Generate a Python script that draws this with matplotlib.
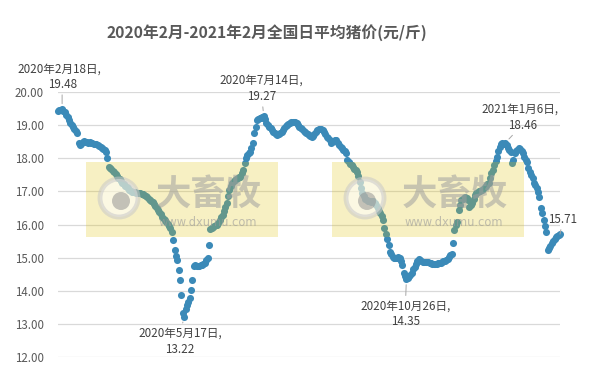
import matplotlib
matplotlib.use('Agg')
from matplotlib import pyplot as plt
from matplotlib.patches import Rectangle, Ellipse
import numpy as np
import pandas as pd

plt.rcParams['font.family'] = ['Noto Sans CJK SC', 'DejaVu Sans']

# daily national average pig price (yuan / jin)
start_date = '2020-02-15'
prices = [
    19.43, 19.45, 19.46, 19.48, 19.44, 19.40, 19.32, 19.25, 19.15, 19.07,
    19.00, 18.93, 18.88, 18.82, 18.77, 18.45, 18.41, 18.44, 18.50, 18.52,
    18.50, 18.49, 18.47, 18.48, 18.47, 18.46, 18.44, 18.43, 18.42, 18.41,
    18.38, 18.35, 18.31, 18.28, 18.24, 18.19, 18.01, 17.75, 17.72, 17.68,
    17.63, 17.59, 17.53, 17.47, 17.41, 17.36, 17.31, 17.26, 17.22, 17.17,
    17.12, 17.09, 17.05, 17.02, 16.99, 16.98, 16.97, 16.96, 16.95, 16.95,
    16.94, 16.93, 16.91, 16.89, 16.86, 16.82, 16.78, 16.74, 16.71, 16.68,
    16.62, 16.56, 16.50, 16.44, 16.38, 16.32, 16.23, 16.18, 16.13, 16.08,
    16.02, 15.95, 15.88, 15.78, 15.53, 15.23, 15.05, 14.93, 14.63, 14.33,
    13.87, 13.33, 13.22, 13.45, 13.58, 13.66, 13.78, 14.02, 14.33, 14.76,
    14.78, 14.76, 14.75, 14.76, 14.77, 14.78, 14.80, 14.84, 14.92, 14.99,
    15.38, 15.85, 15.90, 15.92, 15.95, 15.97, 15.99, 16.06, 16.14, 16.23,
    16.30, 16.40, 16.52, 16.65, 16.85, 17.05, 17.15, 17.26, 17.30, 17.33,
    17.36, 17.39, 17.42, 17.44, 17.55, 17.65, 17.86, 18.00, 18.10, 18.16,
    18.19, 18.30, 18.47, 18.77, 18.95, 19.16, 19.20, 19.22, 19.21, 19.24,
    19.27, 19.18, 19.07, 19.00, 18.95, 18.90, 18.86, 18.80, 18.76, 18.73,
    18.71, 18.74, 18.77, 18.80, 18.86, 18.92, 18.97, 19.01, 19.04, 19.07,
    19.09, 19.10, 19.10, 19.09, 19.05, 19.00, 18.95, 18.91, 18.87, 18.83,
    18.80, 18.77, 18.73, 18.70, 18.67, 18.65, 18.66, 18.72, 18.79, 18.86,
    18.88, 18.88, 18.87, 18.86, 18.80, 18.73, 18.65, 18.60, 18.54, 18.47,
    18.50, 18.53, 18.56, 18.55, 18.47, 18.40, 18.34, 18.30, 18.26, 18.22,
    18.16, 17.95, 17.88, 17.84, 17.80, 17.75, 17.69, 17.64, 17.59, 17.45,
    17.29, 17.10, 16.95, 16.85, 16.78, 16.74, 16.72, 16.70, 16.68, 16.72,
    16.70, 16.65, 16.59, 16.50, 16.42, 16.35, 16.25, 16.14, 15.90, 15.70,
    15.55, 15.38, 15.17, 15.10, 15.02, 15.00, 14.99, 15.00, 15.02, 15.00,
    14.90, 14.78, 14.55, 14.45, 14.35, 14.40, 14.45, 14.48, 14.55, 14.65,
    14.72, 14.80, 14.90, 14.95, 14.93, 14.90, 14.87, 14.86, 14.87, 14.88,
    14.87, 14.85, 14.83, 14.81, 14.80, 14.81, 14.82, 14.83, 14.84, 14.85,
    14.87, 14.89, 14.91, 14.93, 14.97, 15.02, 15.08, 15.11, 15.44, 15.84,
    16.00, 16.08, 16.44, 16.60, 16.74, 16.78, 16.80, 16.83, 16.80, 16.75,
    16.53, 16.58, 16.65, 16.78, 16.88, 16.95, 16.98, 17.00, 17.02, 17.05,
    17.08, 17.12, 17.17, 17.22, 17.26, 17.40, 17.55, 17.65, 17.80, 17.92,
    18.05, 18.22, 18.35, 18.43, 18.45, 18.44, 18.46, 18.40, 18.32, 18.25,
    18.20, 17.86, 17.95, 18.16, 18.22, 18.26, 18.31, 18.28, 18.22, 18.16,
    18.05, 17.95, 17.89, 17.71, 17.60, 17.50, 17.41, 17.26, 17.18, 17.11,
    16.98, 16.83, 16.50, 16.35, 16.14, 15.95, 15.78, 15.23, 15.30, 15.36,
    15.44, 15.50, 15.56, 15.61, 15.65, 15.68, 15.71,
]
dates = pd.date_range(start_date, periods=len(prices), freq='D')

# labelled points
label_dates = ['2020-02-18', '2020-05-17', '2020-07-14', '2020-10-26', '2021-01-06', '2021-02-15']
label_with_date = [True, True, True, True, True, False]
# pixel offsets of the date line and of the value line (layout only)
date_offsets = [(-3, 40), (-4, -17), (-2, 36), (-1, -27), (15, 34), None]
value_offsets = [(0, 25), (-4, -33), (-2, 20), (-1, -42), (17, 18), (3, 15)]

title = '2020年2月-2021年2月全国日平均猪价(元/斤)'

W, H = 594, 380
fig = plt.figure(figsize=(W / 100, H / 100), dpi=100)
ax = fig.add_axes([58 / W, 23 / H, 502 / W, 265 / H])

ax.scatter(dates, prices, s=26, color='#3B8AB8', linewidths=0, zorder=3, clip_on=False)
ax.set_xlim(dates[0], dates[-1])
ax.set_ylim(12, 20)
ax.set_yticks(np.arange(12, 21, 1))
ax.set_yticklabels(['%.2f' % v for v in np.arange(12, 21, 1)], color='#595959', fontsize=8.3)
ax.tick_params(axis='y', length=0, pad=10)
ax.set_xticks([])
ax.grid(axis='y', color='#D9D9D9', lw=0.9)
ax.set_axisbelow(True)
for s in ax.spines.values():
    s.set_visible(False)

series = pd.Series(prices, index=dates)
line_kw = dict(textcoords='offset pixels', ha='center', va='center', fontsize=8.4,
               color='#404040', annotation_clip=False)
arrow_kw = dict(arrowstyle='-', color='#A6A6A6', lw=0.7, shrinkA=1, shrinkB=4)
for d, with_date, doff, voff in zip(label_dates, label_with_date, date_offsets, value_offsets):
    t = pd.Timestamp(d)
    v = series[t]
    below = voff[1] < 0
    # the leader line starts from the line nearest to the point
    ax.annotate('%.2f' % v, xy=(t, v), xytext=voff,
                arrowprops=None if below else arrow_kw, **line_kw)
    if with_date:
        ax.annotate('%d年%d月%d日,' % (t.year, t.month, t.day), xy=(t, v), xytext=doff,
                    arrowprops=arrow_kw if below else None, **line_kw)

fig.text(267 / W, 1 - 33 / H, title, ha='center', va='center',
         fontsize=11.3, fontweight='bold', color='#595959')


# semi transparent watermark boxes over the plot
def watermark(x0):
    fig.add_artist(Rectangle((x0 / W, 1 - 237 / H), 192 / W, 75 / H,
                             transform=fig.transFigure, facecolor='#DFC305',
                             alpha=0.24, lw=0, zorder=5))
    cx, cy = x0 + 33, 198
    fig.add_artist(Ellipse((cx / W, 1 - cy / H), 38 / W, 38 / H,
                           transform=fig.transFigure, facecolor='white',
                           edgecolor='#C8C8C8', lw=3.5, alpha=0.55, zorder=6))
    fig.add_artist(Ellipse(((cx + 2) / W, 1 - (cy + 3) / H), 18 / W, 18 / H,
                           transform=fig.transFigure, facecolor='#8C8C8C',
                           lw=0, alpha=0.5, zorder=7))
    fig.text((x0 + 70) / W, 1 - 194 / H, '大畜牧', ha='left', va='center',
             fontsize=25.5, fontweight='bold', color='#A0A0A0', alpha=0.55, zorder=7)
    fig.text((x0 + 73) / W, 1 - 222 / H, 'www.dxumu.com', ha='left', va='center',
             fontsize=8.3, family='DejaVu Sans', color='#9A9A9A', alpha=0.6, zorder=7)


watermark(86)
watermark(332)

fig.savefig('out.png', dpi=100)
